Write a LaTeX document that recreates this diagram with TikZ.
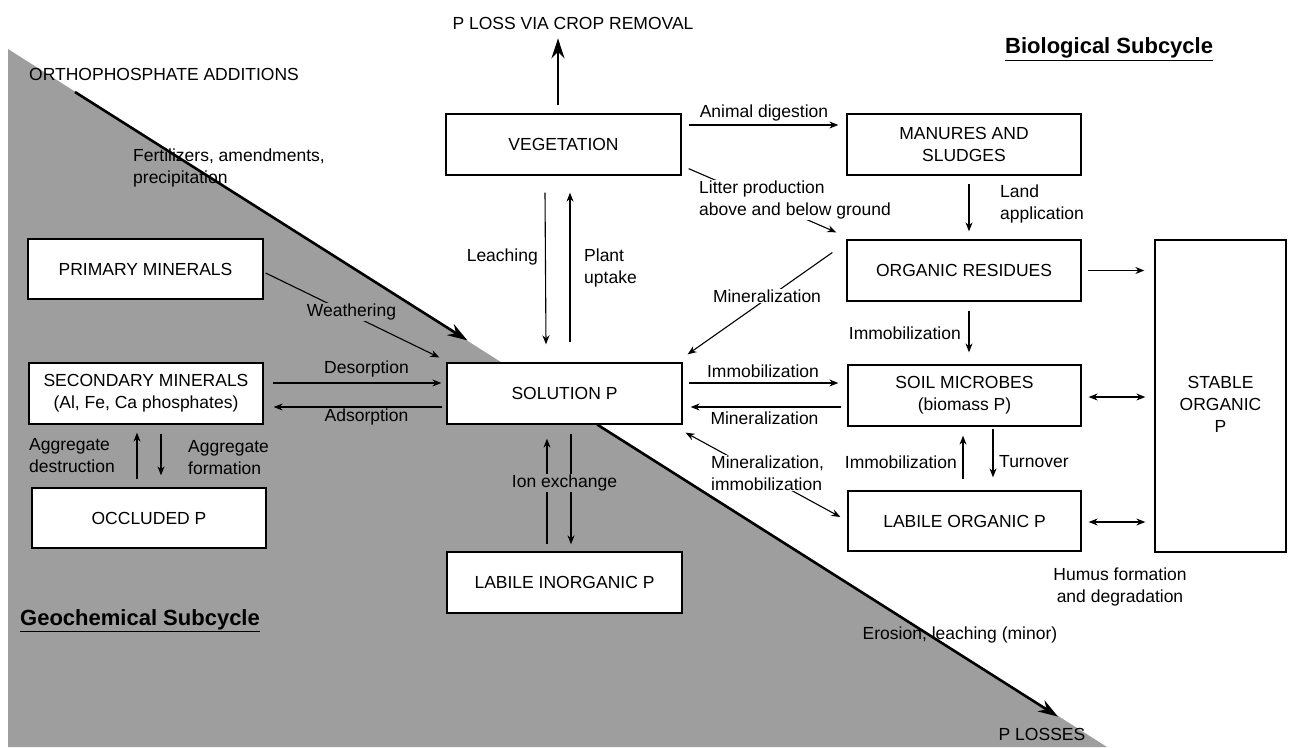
\documentclass[tikz,border=0pt]{standalone}
\usepackage{fontspec}
\setmainfont{Liberation Sans}
\usetikzlibrary{arrows.meta,calc}
\pgfdeclarelayer{back}
\pgfdeclarelayer{mid}
\pgfsetlayers{back,mid,main}
\definecolor{bggray}{RGB}{158,158,158}
\begin{document}
\begin{tikzpicture}[x=1pt,y=-1pt,
  every node/.style={font=\fontsize{17.5}{22}\selectfont, text=black},
  box/.style={draw, fill=white, line width=1.3pt, align=center, inner sep=2pt},
  lab/.style={inner sep=1pt, align=left},
  title/.style={inner sep=1pt, font=\fontsize{22}{26}\selectfont\bfseries},
  arr/.style={line width=1.1pt, -{Stealth[length=9pt,width=7pt]}},
  darr/.style={line width=1.1pt, {Stealth[length=9pt,width=7pt]}-{Stealth[length=9pt,width=7pt]}},
  bigarr/.style={line width=2.6pt, -{Stealth[length=20pt,width=13pt]}}
]
\useasboundingbox (0,0) rectangle (1290,747);

% ---------- boxes ----------
\node[box, minimum width=235pt, minimum height=61pt] (veg) at (563.5,144.5) {VEGETATION};
\node[box, minimum width=234pt, minimum height=61pt] (man) at (964,144.5) {MANURES AND\\SLUDGES};
\node[box, minimum width=234pt, minimum height=61pt] (org) at (964,270.5) {ORGANIC RESIDUES};
\node[box, minimum width=131pt, minimum height=312pt,
      label={[align=center, yshift=-8pt]center:{STABLE\\ORGANIC\\P}}] (stab) at (1220.5,396) {};
\node[box, minimum width=235pt, minimum height=60pt] (prim) at (145.5,269) {PRIMARY MINERALS};
\node[box, minimum width=234pt, minimum height=61pt] (sec) at (146,393.5) {SECONDARY MINERALS\\(Al, Fe, Ca phosphates)};
\node[box, minimum width=234pt, minimum height=60pt] (occ) at (149,518) {OCCLUDED P};
\node[box, minimum width=235pt, minimum height=61pt] (sol) at (564.5,393.5) {SOLUTION P};
\node[box, minimum width=235pt, minimum height=61pt] (lip) at (564.5,582.5) {LABILE INORGANIC P};
\node[box, minimum width=233pt, minimum height=61pt] (mic) at (964.5,395.5) {SOIL MICROBES\\(biomass P)};
\node[box, minimum width=233pt, minimum height=60pt] (lop) at (964.5,521) {LABILE ORGANIC P};

% ---------- labels ----------
\node[lab] (ploss) at (573,23) {P LOSS VIA CROP REMOVAL};
\node[title, anchor=west] (bio) at (1004,49) {\underline{Biological Subcycle}};
\node[title, anchor=west] (geo) at (19,621) {\underline{Geochemical Subcycle}};
\node[lab, anchor=west] (orth) at (28,74) {ORTHOPHOSPHATE ADDITIONS};
\node[lab, anchor=west] (fert) at (132,168) {Fertilizers, amendments,\\precipitation};
\node[lab, fill=bggray] (weath) at (351.5,312) {Weathering};
\node[lab] (desorp) at (366.5,369) {Desorption};
\node[lab] (adsorp) at (366.5,417) {Adsorption};
\node[lab, anchor=west] (aggd) at (28,456) {Aggregate\\destruction};
\node[lab, anchor=west] (aggf) at (187,458) {Aggregate\\formation};
\node[lab, anchor=east] (leach) at (539,257) {Leaching};
\node[lab, anchor=west] (plant) at (583,268) {Plant\\uptake};
\node[lab] (anim) at (764,113) {Animal digestion};
\node[lab, anchor=west, fill=white] (litter) at (698,200) {Litter production\\above and below ground};
\node[lab, anchor=west] (land) at (999,204) {Land\\application};
\node[lab, fill=white] (minup) at (767,296) {Mineralization};
\node[lab, fill=bggray] (ionx) at (564.5,483) {Ion exchange};
\node[lab] (immmid) at (763,371) {Immobilization};
\node[lab] (minmid) at (764.5,418) {Mineralization};
\node[lab, anchor=west, fill=white] (minimm) at (710,473) {Mineralization,\\immobilization};
\node[lab, anchor=east] (immorg) at (962,333) {Immobilization};
\node[lab, anchor=east] (immlow) at (958,462) {Immobilization};
\node[lab, anchor=west] (turn) at (998,462) {Turnover};
\node[lab, align=center] (humus) at (1120,587) {Humus formation\\and degradation};
\node[lab] (eros) at (960,635) {Erosion, leaching (minor)};
\node[lab] (plosses) at (1042,734) {P LOSSES};

% ---------- background ----------
\begin{pgfonlayer}{back}
  \fill[white] (0,0) rectangle (1290,747);
  \fill[bggray] (8,49) -- (1107,747) -- (8,747) -- cycle;
\end{pgfonlayer}

% ---------- connectors ----------
\begin{pgfonlayer}{mid}
  \coordinate (tl) at (75,92);
  \draw[bigarr] (tl) -- ($(sol.north west)+(21,-22)$);
  \draw[bigarr] ($(sol.south west)+(151,0)$) -- ($(plosses.north)+(16,-10)$);
  \draw[bigarr] ($(veg.north)+(-5.5,-8)$) -- ($(ploss.south)+(-15,8)$);

  \draw[arr] ($(veg.east)+(7,-19.5)$) -- ($(man.west)+(-8,-19.5)$);
  \draw[arr] ($(veg.south east)+(7,-7)$) -- ($(org.north west)+(-10,-7)$);
  \draw[arr] ($(man.south)+(5,8)$) -- ($(org.north)+(5,-8)$);
  \draw[arr] ($(org.east)+(6,0)$) -- ($(stab.west |- org.east)+(-10,0)$);
  \draw[arr] ($(org.west)+(-14,-18)$) -- ($(sol.north east)+(5,-8)$);
  \draw[arr] ($(veg.south)+(-18.5,17)$) -- ($(sol.north)+(-18.5,-18)$);
  \draw[arr] ($(sol.north)+(5.5,-20)$) -- ($(veg.south)+(6.5,17)$);
  \draw[arr] ($(prim.east)+(2,4)$) -- ($(sol.west)+(-7,-36)$);
  \draw[arr] ($(sec.east)+(9,-10.5)$) -- ($(sol.west)+(-5,-10.5)$);
  \draw[arr] ($(sol.west)+(-4,13.5)$) -- ($(sec.east)+(10,13.5)$);
  \draw[arr] ($(occ.north)+(-12,-8)$) -- ($(sec.south)+(-9,8)$);
  \draw[arr] ($(sec.south)+(15,9)$) -- ($(occ.north)+(12,-12)$);
  \draw[arr] ($(lip.north)+(-17.5,-7)$) -- ($(sol.south)+(-17.5,14)$);
  \draw[arr] ($(sol.south)+(6.5,9)$) -- ($(lip.north)+(6.5,-7)$);
  \draw[arr] ($(sol.east)+(6,-10.5)$) -- ($(mic.west)+(-9,-12.5)$);
  \draw[arr] ($(mic.west)+(-6,11.5)$) -- ($(sol.east)+(8,13.5)$);
  \draw[darr] ($(sol.south east)+(3,8)$) -- ($(lop.west)+(-7,-4)$);
  \draw[arr] ($(org.south)+(5,9)$) -- ($(mic.north)+(4.5,-12)$);
  \draw[arr] ($(lop.north)+(-1.5,-11)$) -- ($(mic.south)+(-1.5,9)$);
  \draw[arr] ($(mic.south)+(28.5,2)$) -- ($(lop.north)+(28.5,-13)$);
  \draw[darr] ($(mic.east)+(7,1.5)$) -- ($(stab.west |- mic.east)+(-9,1.5)$);
  \draw[darr] ($(lop.east)+(7,1)$) -- ($(stab.west |- lop.east)+(-9,1)$);
\end{pgfonlayer}
\end{tikzpicture}
\end{document}
